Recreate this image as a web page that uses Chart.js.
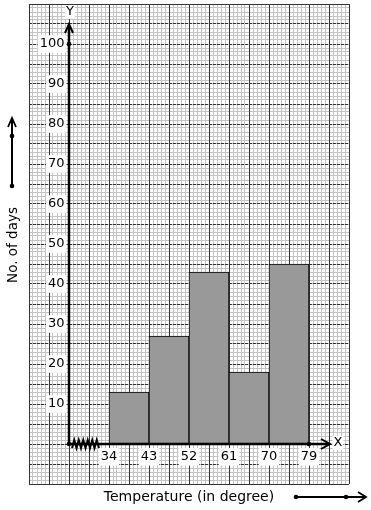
<!DOCTYPE html>
<html><head><meta charset="utf-8">
<script src="https://cdn.jsdelivr.net/npm/chart.js@4/dist/chart.umd.min.js"></script>
<style>html,body{margin:0;padding:0;background:#fff;}canvas{display:block}</style>
</head><body>
<canvas id="c" width="371" height="510"></canvas>
<script>
// ---- data ----
const classes = ["34-43", "43-52", "52-61", "61-70", "70-79"];
const classEdges = [34, 43, 52, 61, 70, 79];
const days = [13, 27, 43, 18, 45];
const yTickLabels = [10, 20, 30, 40, 50, 60, 70, 80, 90, 100];
const xTitle = "Temperature (in degree)";
const yTitle = "No. of days";
const xAxisLabel = "X";
const yAxisLabel = "Y";

// ---- axis ranges (graph paper) ----
const X_MIN = 16, X_MAX = 88, X_ORIGIN = 25;   // origin drawn one class before 34 (kinked axis)
const Y_MIN = -10, Y_MAX = 110;
const X_MINOR = 0.9, X_MAJOR = 4.5, Y_MINOR = 1, Y_MAJOR = 5;
const Y_LABEL_GAP = 1;   // gap (x units) between y tick labels and the axis line

const FONT = 'DejaVu Sans';

function stepTicks(min, max, step, skipEdges) {
  const t = [];
  const n = Math.round((max - min) / step);
  for (let k = 0; k <= n; k++) {
    if (skipEdges && (k === 0 || k === n)) continue;
    t.push({ value: min + k * step });
  }
  return t;
}
const noPad = s => { s.paddingTop = 0; s.paddingBottom = 0; s.paddingLeft = 0; s.paddingRight = 0; };
function gridScale(axis, ticksFn, z, color, dash) {
  return {
    type: 'linear', axis, offset: false,
    min: axis === 'x' ? X_MIN : Y_MIN,
    max: axis === 'x' ? X_MAX : Y_MAX,
    position: axis === 'x' ? { y: 0 } : { x: X_ORIGIN },
    afterBuildTicks: s => { s.ticks = ticksFn(); },
    afterFit: noPad,
    ticks: { display: false },
    grid: { display: true, drawTicks: false, offset: false, color, lineWidth: 1, z },
    border: { display: false, dash: dash || [] }
  };
}

const decor = {
  id: 'decor',
  afterDraw(chart) {
    const { ctx, chartArea: ca } = chart;
    const xs = chart.scales.x, ys = chart.scales.y;
    const ox = xs.getPixelForValue(X_ORIGIN), oy = ys.getPixelForValue(0);
    ctx.save();
    ctx.strokeStyle = '#000'; ctx.fillStyle = '#000';
    const seg = (pts, w) => { ctx.lineWidth = w; ctx.beginPath(); pts.forEach((p, i) => i ? ctx.lineTo(p[0], p[1]) : ctx.moveTo(p[0], p[1])); ctx.stroke(); };
    const dot = (x, y) => { ctx.fillStyle = '#000'; ctx.beginPath(); ctx.arc(x, y, 2.3, 0, Math.PI * 2); ctx.fill(); };

    // Y axis
    const ytop = ys.getPixelForValue(105);
    seg([[ox, oy], [ox, ytop + 1]], 2.5);
    seg([[ox - 4, ytop + 9], [ox, ytop], [ox + 4, ytop + 9]], 2);
    dot(ox, ys.getPixelForValue(100));
    // X axis
    const xend = xs.getPixelForValue(classEdges[classEdges.length - 1]) + 21;
    seg([[ox, oy], [xend - 1, oy]], 2.5);
    seg([[xend - 9, oy - 5], [xend, oy], [xend - 9, oy + 5]], 2);
    dot(ox, oy);
    dot(xs.getPixelForValue(classEdges[classEdges.length - 1]), oy);
    // kink (zigzag)
    ctx.lineJoin = 'miter';
    const zz = [];
    const zx0 = ox + 3, zx1 = xs.getPixelForValue(classEdges[0]) - 10;
    const nz = 12;
    for (let i = 0; i <= nz; i++) zz.push([zx0 + (zx1 - zx0) * i / nz, i % 2 ? oy - 4 : oy + 4]);
    seg(zz, 2);

    // axis letters
    ctx.font = '13px ' + FONT; ctx.textAlign = 'center'; ctx.textBaseline = 'middle';
    const label = (t, x, y) => {
      const w = ctx.measureText(t).width;
      ctx.fillStyle = '#fff'; ctx.fillRect(x - w / 2 - 1, y - 7, w + 2, 14);
      ctx.fillStyle = '#000'; ctx.fillText(t, x, y);
    };
    label(yAxisLabel, ox + 1, ca.top + 8);
    label(xAxisLabel, xend + 8, oy - 1);

    // axis titles
    ctx.fillStyle = '#000';
    ctx.font = '14px ' + FONT;
    ctx.fillText(xTitle, (ca.left + ca.right) / 2, ca.bottom + 13);
    ctx.font = '13.5px ' + FONT;
    ctx.save();
    ctx.translate(ca.left - 16, ys.getPixelForValue(50) + 1);
    ctx.rotate(-Math.PI / 2);
    ctx.fillText(yTitle, 0, 0);
    ctx.restore();

    // direction arrows
    const lx = ca.left - 17;
    const la = ys.getPixelForValue(64.5), lb = ys.getPixelForValue(81.5);
    seg([[lx, la], [lx, lb + 1]], 2);
    seg([[lx - 4, lb + 9], [lx, lb], [lx + 4, lb + 9]], 1.8);
    dot(lx, la); dot(lx, ys.getPixelForValue(77));
    const by = ca.bottom + 13;
    const bx0 = ca.right - 53, bx1 = ca.right + 17;
    seg([[bx0, by], [bx1 - 1, by]], 2);
    seg([[bx1 - 8, by - 5], [bx1, by], [bx1 - 8, by + 5]], 1.8);
    dot(bx0, by); dot(ca.right - 3, by);
    ctx.restore();
  }
};

const tickFont = { family: FONT, size: 13 };

new Chart(document.getElementById('c'), {
  type: 'bar',
  data: {
    labels: classes,
    datasets: [{
      label: yTitle,
      data: classes.map((c, i) => ({ x: (classEdges[i] + classEdges[i + 1]) / 2, y: days[i] })),
      backgroundColor: '#999999',
      borderColor: '#000000',
      borderWidth: 1,
      borderSkipped: 'bottom',
      barPercentage: 1,
      categoryPercentage: 1,
      xAxisID: 'x', yAxisID: 'y'
    }]
  },
  options: {
    responsive: false,
    animation: false,
    devicePixelRatio: 1,
    layout: { padding: { left: 29, top: 4, right: 22, bottom: 26 } },
    plugins: { legend: { display: false }, tooltip: { enabled: false } },
    scales: {
      x: {
        type: 'linear', min: X_MIN, max: X_MAX, position: { y: 0 }, offset: false,
        afterBuildTicks: s => { s.ticks = classEdges.map(v => ({ value: v })); },
        afterFit: noPad,
        ticks: { padding: 5, font: tickFont, color: '#000', autoSkip: false, maxRotation: 0,
          showLabelBackdrop: true, backdropColor: '#fff', backdropPadding: { x: 2, y: 1 }, z: 1,
          callback: v => String(v) },
        grid: { display: false, drawTicks: false, offset: false },
        border: { display: false }
      },
      y: {
        type: 'linear', min: Y_MIN, max: Y_MAX, position: { x: X_ORIGIN - Y_LABEL_GAP }, offset: false,
        afterBuildTicks: s => { s.ticks = yTickLabels.map(v => ({ value: v })); },
        afterFit: noPad,
        ticks: { padding: 4, font: tickFont, color: '#000', autoSkip: false,
          showLabelBackdrop: true, backdropColor: '#fff', backdropPadding: { x: 2, y: 1 }, z: 1,
          callback: v => String(v) },
        grid: { display: false, drawTicks: false },
        border: { display: false }
      },
      xMinor: gridScale('x', () => stepTicks(X_MIN, X_MAX, X_MINOR), -4, '#c4c4c4'),
      yMinor: gridScale('y', () => stepTicks(Y_MIN, Y_MAX, Y_MINOR), -4, '#c4c4c4'),
      xMajor: gridScale('x', () => stepTicks(X_MIN, X_MAX, X_MAJOR), -2, '#333333'),
      yMajor: gridScale('y', () => stepTicks(Y_MIN, Y_MAX, Y_MAJOR, true), -2, '#333333', [3, 1]),
      yFrame: gridScale('y', () => [{ value: Y_MIN }, { value: Y_MAX }], -2, '#333333')
    }
  },
  plugins: [decor]
});
</script>
</body></html>
